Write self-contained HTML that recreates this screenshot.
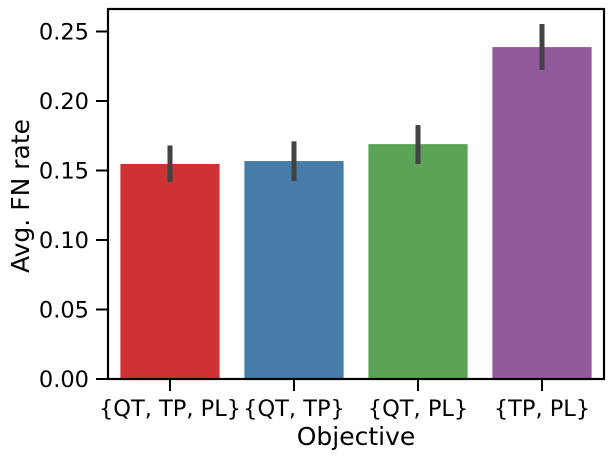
<!DOCTYPE html>
<html><head><meta charset="utf-8"><style>
html,body{margin:0;padding:0;background:#fff;}
svg{display:block;font-family:"DejaVu Sans","Liberation Sans",sans-serif;}
</style></head><body>
<svg id="chart" width="614" height="459" viewBox="0 0 614 459" xmlns="http://www.w3.org/2000/svg"></svg>
<script>
const categories = ["{QT, TP, PL}", "{QT, TP}", "{QT, PL}", "{TP, PL}"];
const values = [0.1547, 0.1568, 0.169, 0.2388];
const errLow = [0.1417, 0.1424, 0.1547, 0.2223];
const errHigh = [0.168, 0.171, 0.1827, 0.2554];
const colors = ["#cd3234", "#477ca8", "#5ba357", "#905a9b"];
const yTicks = [0, 0.05, 0.10, 0.15, 0.20, 0.25];
const yTickLabels = ["0.00", "0.05", "0.10", "0.15", "0.20", "0.25"];

const svg = document.getElementById('chart');
const NS = 'http://www.w3.org/2000/svg';
const L = 108, R = 604, T = 9, B = 379;
const yMax = (B - T) / 1390;
function y(v){ return B - v / yMax * (B - T); }
const band = (R - L) / categories.length;
function xc(i){ return L + band * (i + 0.5); }
function mk(tag, attrs){ const e = document.createElementNS(NS, tag); for (const k in attrs) e.setAttribute(k, attrs[k]); svg.appendChild(e); return e; }

categories.forEach((c, i) => {
  const bw = band * 0.8;
  const r = mk('rect', {x: xc(i) - bw/2, y: y(values[i]), width: bw, height: B - y(values[i]), fill: colors[i]});
  
  
  const e = mk('line', {x1: xc(i), x2: xc(i), y1: y(errLow[i]), y2: y(errHigh[i]), stroke: '#424242', 'stroke-width': 5});
  
  
  const t = mk('line', {x1: xc(i), x2: xc(i), y1: B, y2: B + 12, stroke: '#000', 'stroke-width': 2});
  
  
  const lb = mk('text', {x: xc(i), y: 416, 'text-anchor': 'middle', 'font-size': 22.5, fill: '#000'});
  lb.textContent = c;
  
  
});

yTicks.forEach((v, i) => {
  const t = mk('line', {x1: L - 12, x2: L, y1: y(v), y2: y(v), stroke: '#000', 'stroke-width': 2});
  
  
  const lb = mk('text', {x: 89, y: y(v) + 8, 'text-anchor': 'end', 'font-size': 22.5, fill: '#000'});
  lb.textContent = yTickLabels[i];
  
  
});

const frame = mk('rect', {x: L, y: T, width: R - L, height: B - T, fill: 'none', stroke: '#000', 'stroke-width': 2.2});



const xt = mk('text', {x: (L + R) / 2, y: 445, 'text-anchor': 'middle', 'font-size': 25, fill: '#000'});
xt.textContent = 'Objective';



const yt = mk('text', {x: 0, y: 0, 'text-anchor': 'middle', 'font-size': 25, fill: '#000', transform: 'translate(29,196) rotate(-90)'});
yt.textContent = 'Avg. FN rate';


</script>
</body></html>
